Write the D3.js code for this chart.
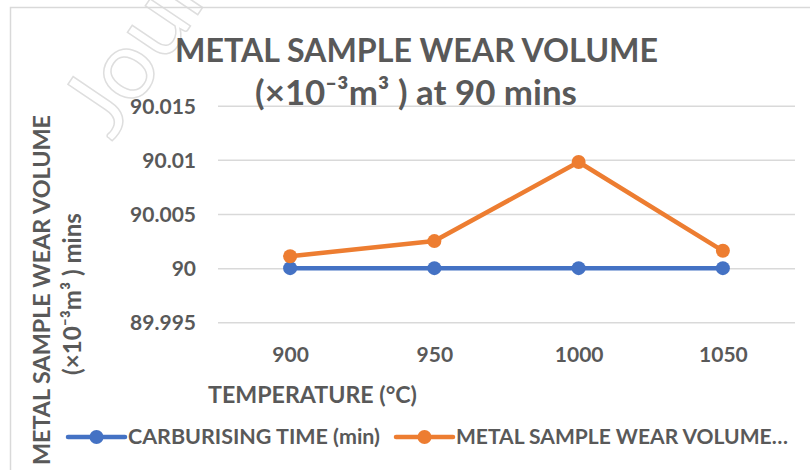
<!DOCTYPE html>
<html>
<head>
<meta charset="utf-8">
<script src="https://cdn.jsdelivr.net/npm/d3@7"></script>
<style>
  html, body { margin: 0; padding: 0; background: #fff; }
  svg { display: block; }
  text { font-family: Lato, "Open Sans", sans-serif; font-weight: bold; fill: #595959; }
</style>
</head>
<body>
<svg id="chart" width="810" height="470"></svg>
<script>
// ---- data ----
const categories = ["900", "950", "1000", "1050"];
const carburisingTime = [90, 90, 90, 90];
const wearVolume = [90.0011, 90.0025, 90.0098, 90.0016];
const yTicks = [89.995, 90, 90.005, 90.01, 90.015];
const seriesNames = ["CARBURISING TIME (min)", "METAL SAMPLE WEAR VOLUME…"];
const titleLines = ["METAL SAMPLE WEAR VOLUME", "(×10⁻³m³ ) at 90 mins"];
const yTitleLines = ["METAL SAMPLE WEAR VOLUME", "(×10⁻³m³ ) mins"];
const xTitle = "TEMPERATURE (°C)";

const colors = ["#4472C4", "#ED7D31"];
const svg = d3.select("#chart");

// fit helper: scale font size so text reaches a target width
function fit(sel, target) {
  const base = parseFloat(sel.style("font-size"));
  const w = sel.node().getComputedTextLength();
  sel.style("font-size", (base * target / w).toFixed(2) + "px");
  return sel;
}

// watermark
svg.append("text")
  .attr("transform", "translate(112,142) rotate(-56)")
  .style("font-size", "96px").style("font-weight", "normal")
  .style("fill", "#fff").style("stroke", "#dedede").style("stroke-width", 1.5)
  .text("Journal Pre-proof");

// chart frame
svg.append("rect").attr("x", 10.5).attr("y", 7.5).attr("width", 820).attr("height", 480)
  .attr("fill", "none").attr("stroke", "#d9d9d9").attr("stroke-width", 1.5);

const plot = { left: 218, right: 795, top: 105.7, bottom: 322.3 };
const x = d3.scalePoint().domain(categories).range([plot.left, plot.right]).padding(0.5);
const y = d3.scaleLinear().domain([89.995, 90.015]).range([plot.bottom, plot.top]);

// y axis + gridlines
const yAxis = svg.append("g").attr("transform", `translate(${plot.left},0)`)
  .call(d3.axisLeft(y).tickValues(yTicks)
    .tickSize(-(plot.right - plot.left)).tickPadding(22)
    .tickFormat(d => String(+d.toFixed(3))));
yAxis.select(".domain").remove();
yAxis.selectAll(".tick line").attr("stroke", "#d9d9d9").attr("stroke-width", 1.5);
yAxis.selectAll(".tick text").attr("dy", "0.36em")
  .style("font-size", "21px").style("font-family", "Lato, sans-serif").style("fill", "#595959");

// x axis
const xAxis = svg.append("g").attr("transform", `translate(0,${plot.bottom})`)
  .call(d3.axisBottom(x).tickSize(0));
xAxis.select(".domain").remove();
xAxis.selectAll(".tick text").attr("y", 362 - plot.bottom).attr("dy", 0)
  .style("font-size", "21px").style("font-family", "Lato, sans-serif").style("fill", "#595959");

// series
const series = [carburisingTime, wearVolume];
const line = d3.line().x((d, i) => x(categories[i])).y(d => y(d));
series.forEach((vals, si) => {
  svg.append("path").datum(vals).attr("d", line)
    .attr("fill", "none").attr("stroke", colors[si]).attr("stroke-width", 4.5)
    .attr("stroke-linejoin", "round").attr("stroke-linecap", "round");
  svg.append("g").selectAll("circle").data(vals).join("circle")
    .attr("cx", (d, i) => x(categories[i])).attr("cy", d => y(d)).attr("r", 7)
    .attr("fill", colors[si]);
});

// title
fit(svg.append("text").attr("x", 416.5).attr("y", 62).attr("text-anchor", "middle")
  .style("font-size", "30px").text(titleLines[0]), 483);
fit(svg.append("text").attr("x", 416).attr("y", 105).attr("text-anchor", "middle")
  .style("font-size", "30px").text(titleLines[1]), 322);

// y title
fit(svg.append("text").attr("transform", "translate(50,290) rotate(-90)").attr("text-anchor", "middle")
  .style("font-size", "21px").text(yTitleLines[0]), 350);
fit(svg.append("text").attr("transform", "translate(81,294) rotate(-90)").attr("text-anchor", "middle")
  .style("font-size", "21px").text(yTitleLines[1]), 162);

// x title
fit(svg.append("text").attr("x", 312.5).attr("y", 403).attr("text-anchor", "middle")
  .style("font-size", "24px").text(xTitle), 209);

// legend
const legendItems = [
  { lx: 68, tx: 128, w: 252 },
  { lx: 396, tx: 456, w: 332 }
];
legendItems.forEach((it, i) => {
  const g = svg.append("g");
  g.append("line").attr("x1", it.lx).attr("x2", it.lx + 57).attr("y1", 437).attr("y2", 437)
    .attr("stroke", colors[i]).attr("stroke-width", 4.5).attr("stroke-linecap", "round");
  g.append("circle").attr("cx", it.lx + 28.5).attr("cy", 437).attr("r", 7).attr("fill", colors[i]);
  fit(g.append("text").attr("x", it.tx).attr("y", 444).style("font-size", "20px").text(seriesNames[i]), it.w);
});
</script>
</body>
</html>
